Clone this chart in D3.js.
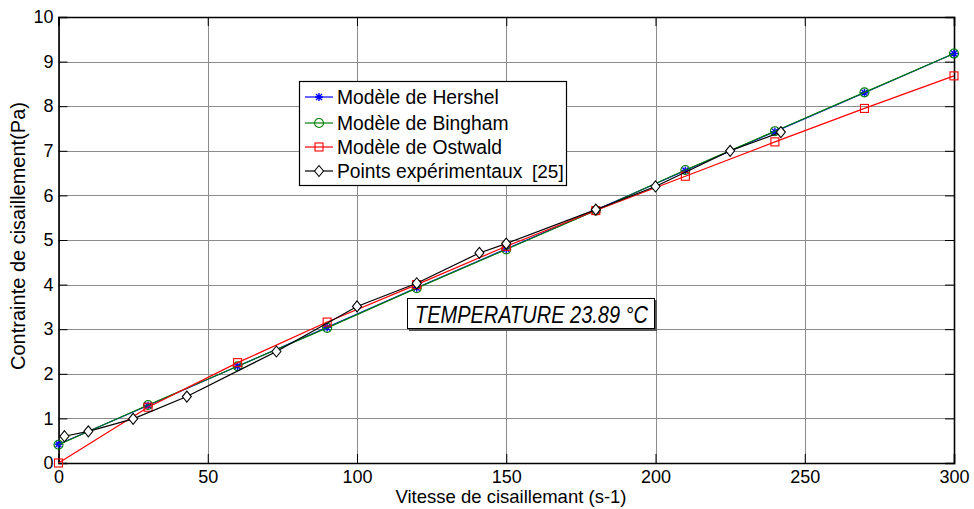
<!DOCTYPE html>
<html>
<head>
<meta charset="UTF-8" />
<title>Contrainte de cisaillement</title>
<script src="https://cdn.jsdelivr.net/npm/d3@7"></script>
<style>
    body { margin: 0; background: #fff; }
    svg text { font-family: "Liberation Sans", Arial, sans-serif; }
</style>
</head>
<body>
<svg id="chart" width="974" height="509"></svg>
<script>
    // data
    var xTicks = [0, 50, 100, 150, 200, 250, 300];
    var yTicks = [0, 1, 2, 3, 4, 5, 6, 7, 8, 9, 10];

    var modelX = [0, 30, 60, 90, 120, 150, 180, 210, 240, 270, 300];
    var hershelY = [0.42, 1.29, 2.17, 3.04, 3.93, 4.80, 5.67, 6.56, 7.43, 8.30, 9.18];
    var binghamY = [0.41, 1.30, 2.17, 3.03, 3.92, 4.79, 5.66, 6.57, 7.44, 8.31, 9.18];
    var ostwaldY = [0.00, 1.25, 2.25, 3.16, 4.00, 4.86, 5.66, 6.43, 7.20, 7.95, 8.68];

    var expX = [2, 10, 25, 43, 73, 100, 120, 141, 150, 180, 200, 225, 242];
    var expY = [0.60, 0.71, 0.99, 1.49, 2.50, 3.51, 4.03, 4.71, 4.92, 5.68, 6.20, 7.00, 7.42];

    var series = [
        { name: "Modèle de Hershel", color: "#0000ff", marker: "star", x: modelX, y: hershelY },
        { name: "Modèle de Bingham", color: "#008000", marker: "circle", x: modelX, y: binghamY },
        { name: "Modèle de Ostwald", color: "#ff0000", marker: "square", x: modelX, y: ostwaldY },
        { name: "Points expérimentaux", color: "#000000", marker: "diamond", x: expX, y: expY }
    ];

    var svg = d3.select("#chart");
    var pLeft = 58.5, pRight = 954, pTop = 17, pBottom = 463;

    var x = d3.scaleLinear().domain([0, 300]).range([pLeft, pRight]);
    var y = d3.scaleLinear().domain([0, 10]).range([pBottom, pTop]);

    // grid
    var grid = svg.append("g");
    grid.selectAll(".gx").data(xTicks).enter().append("line")
        .attr("x1", function (d) { return Math.round(x(d)) + 0.5; })
        .attr("x2", function (d) { return Math.round(x(d)) + 0.5; })
        .attr("y1", pTop).attr("y2", pBottom)
        .attr("stroke", "#8c8c8c").attr("stroke-width", 1);
    grid.selectAll(".gy").data(yTicks).enter().append("line")
        .attr("y1", function (d) { return Math.round(y(d)) + 0.5; })
        .attr("y2", function (d) { return Math.round(y(d)) + 0.5; })
        .attr("x1", pLeft).attr("x2", pRight)
        .attr("stroke", "#8c8c8c").attr("stroke-width", 1);

    // axes with inward ticks on all four sides
    var fmt = d3.format("d");
    svg.append("g").attr("transform", "translate(0," + pBottom + ")")
        .call(d3.axisBottom(x).tickValues(xTicks).tickSize(-9).tickPadding(7).tickFormat(fmt));
    svg.append("g").attr("transform", "translate(" + pLeft + ",0)")
        .call(d3.axisLeft(y).tickValues(yTicks).tickSize(-9).tickPadding(5).tickFormat(fmt));
    svg.append("g").attr("transform", "translate(0," + pTop + ")")
        .call(d3.axisTop(x).tickValues(xTicks).tickSize(-9).tickFormat(""));
    svg.append("g").attr("transform", "translate(" + pRight + ",0)")
        .call(d3.axisRight(y).tickValues(yTicks).tickSize(-9).tickFormat(""));

    svg.selectAll(".domain").attr("stroke", "#000").attr("stroke-width", 1.6);
    svg.selectAll(".tick line").attr("stroke", "#000");
    svg.selectAll(".tick text").attr("font-size", 18).attr("fill", "#000")
        .attr("font-family", "Liberation Sans, Arial, sans-serif");

    // axis titles
    svg.append("text").attr("x", 511).attr("y", 503)
        .attr("text-anchor", "middle").attr("font-size", 18.5)
        .text("Vitesse de cisaillemant (s-1)");
    svg.append("text").attr("transform", "translate(25,236) rotate(-90)")
        .attr("text-anchor", "middle").attr("font-size", 20)
        .text("Contrainte de cisaillement(Pa)");

    function drawMarker(g, type, color) {
        if (type === "star") {
            g.append("path").attr("d", "M-4,0H4M0,-4V4M-3,-3L3,3M-3,3L3,-3")
                .attr("stroke", color).attr("stroke-width", 1.4).attr("fill", "none");
        } else if (type === "circle") {
            g.append("circle").attr("r", 4.5).attr("fill", "none")
                .attr("stroke", color).attr("stroke-width", 1.1);
        } else if (type === "square") {
            g.append("rect").attr("x", -4).attr("y", -4).attr("width", 8).attr("height", 8)
                .attr("fill", "none").attr("stroke", color).attr("stroke-width", 1.1);
        } else {
            g.append("path").attr("d", "M0,-5.5L4.5,0L0,5.5L-4.5,0Z").attr("fill", "#fff")
                .attr("stroke", color).attr("stroke-width", 1.1);
        }
    }

    var line = d3.line().x(function (d) { return x(d[0]); }).y(function (d) { return y(d[1]); });

    series.forEach(function (s) {
        var pts = s.x.map(function (v, i) { return [v, s.y[i]]; });
        svg.append("path").datum(pts).attr("d", line)
            .attr("fill", "none").attr("stroke", s.color).attr("stroke-width", 1.2);
        pts.forEach(function (p) {
            var g = svg.append("g").attr("transform", "translate(" + x(p[0]) + "," + y(p[1]) + ")");
            drawMarker(g, s.marker, s.color);
        });
    });

    // legend
    var leg = svg.append("g");
    leg.append("rect").attr("x", 299.5).attr("y", 81.5).attr("width", 267).attr("height", 104)
        .attr("fill", "#fff").attr("stroke", "#000").attr("stroke-width", 1.2);
    var legY = [97, 123, 147, 171];
    series.forEach(function (s, i) {
        leg.append("line").attr("x1", 305).attr("x2", 333).attr("y1", legY[i]).attr("y2", legY[i])
            .attr("stroke", s.color).attr("stroke-width", 1.2);
        drawMarker(leg.append("g").attr("transform", "translate(319," + legY[i] + ")"), s.marker, s.color);
        leg.append("text").attr("x", 337).attr("y", legY[i] + 6.5).attr("font-size", 19.3).text(s.name);
    });
    leg.append("text").attr("x", 532).attr("y", legY[3] + 7).attr("font-size", 19)
        .attr("font-family", "Liberation Serif, Times New Roman, serif").text("[25]");

    // temperature box
    var tb = svg.append("g");
    tb.append("rect").attr("x", 409).attr("y", 300).attr("width", 248).attr("height", 31)
        .attr("fill", "#555");
    tb.append("rect").attr("x", 407.5).attr("y", 298.5).attr("width", 247).attr("height", 30)
        .attr("fill", "#fff").attr("stroke", "#000").attr("stroke-width", 1);
    tb.append("text").attr("x", 415).attr("y", 323).attr("font-size", 23)
        .attr("font-family", "Liberation Serif, Times New Roman, serif").attr("font-style", "italic")
        .attr("textLength", 233).attr("lengthAdjust", "spacingAndGlyphs")
        .text("TEMPERATURE 23.89 °C");
</script>
</body>
</html>
